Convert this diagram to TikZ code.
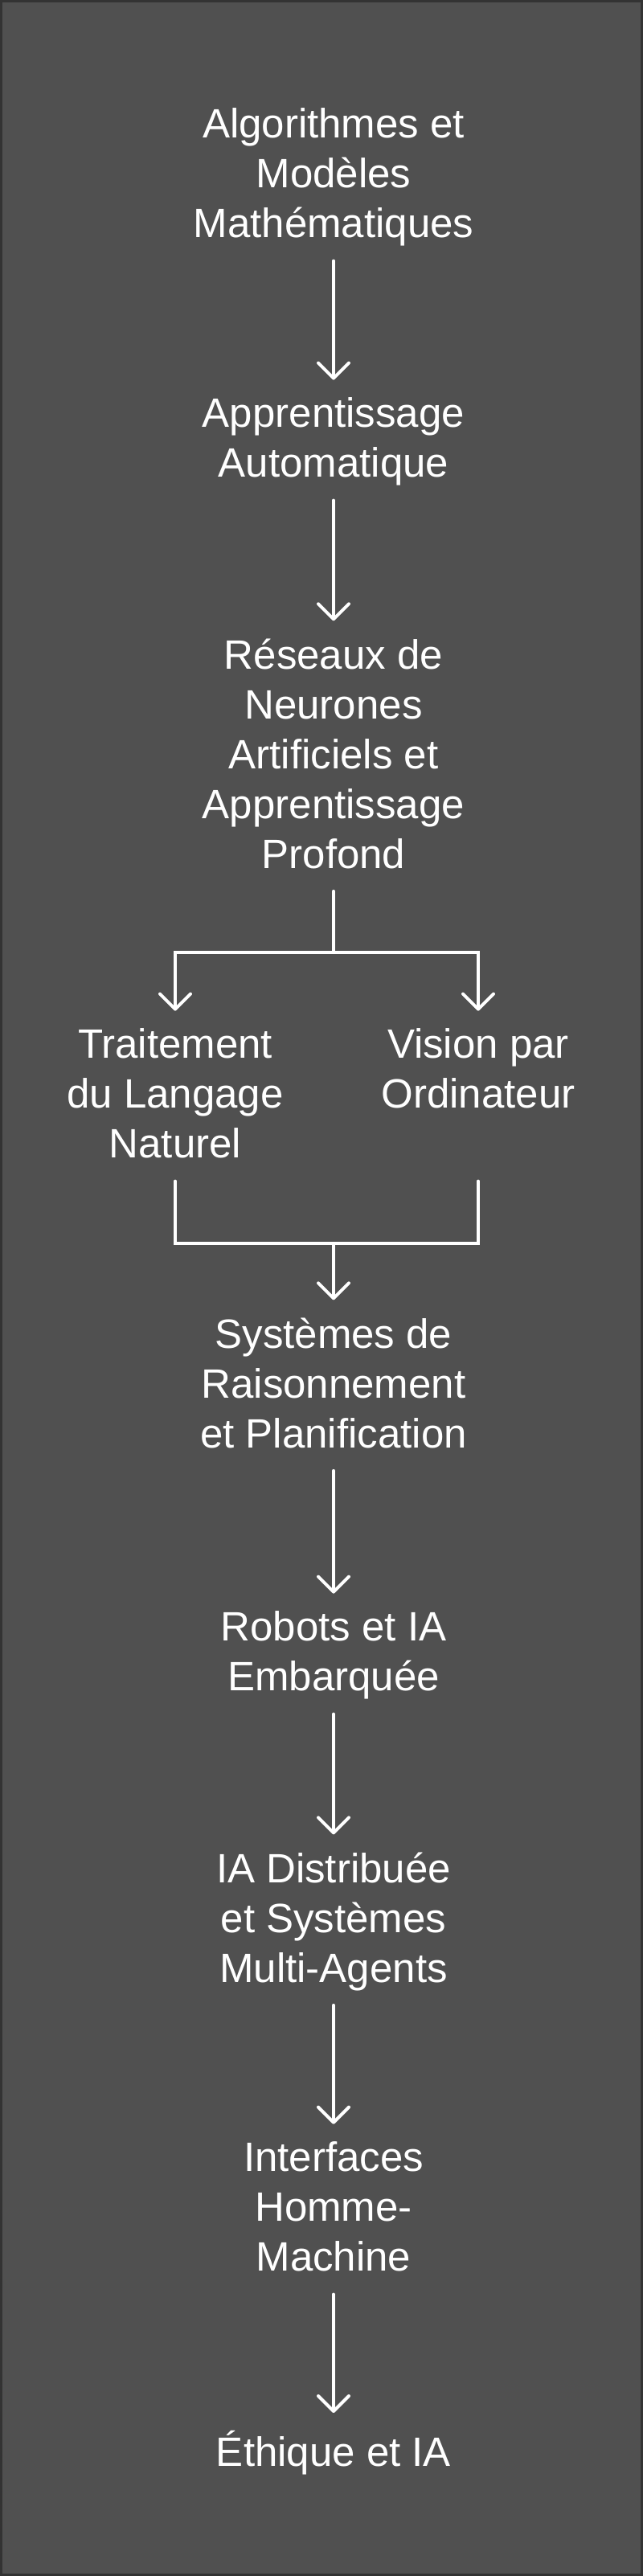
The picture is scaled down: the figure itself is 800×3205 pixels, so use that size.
\documentclass[tikz,border=0pt]{standalone}
\usepackage{fontspec}
\setmainfont{Liberation Sans}
\usepackage{xcolor}
\usepackage{tikz}
\usetikzlibrary{arrows.meta,positioning}
\definecolor{cBack}{HTML}{505050}
\definecolor{cFrame}{HTML}{333333}
\definecolor{cInk}{HTML}{FFFFFF}
\tikzset{
  link/.style ={line width=4pt, draw=cInk, line cap=round, line join=miter},
  arrow/.style={link, -{Straight Barb[length=19pt,width=38pt,round]}, shorten >=22pt},
  gap/.style  ={shorten <=10pt},
  stage/.style={inner sep=0pt, align=center, text=cInk, font=\fontsize{51}{62}\selectfont,
    execute at begin node=\strut, execute at end node=\strut},
}

\begin{document}
\begin{tikzpicture}[x=1pt,y=1pt]
        \useasboundingbox (0,0) rectangle (800,-3205);
        \fill[cBack,draw=cFrame,line width=3pt] (1.5,-1.5) rectangle (798.5,-3203.5);
        % main column
        \node[stage] (algo)   at (415,-224.6)  {Algorithmes et\\Modèles\\Mathématiques};
        \node[stage] (ml)     at (415,-553.6)  {Apprentissage\\Automatique};
        \node[stage] (deep)   at (415,-946.6)  {Réseaux de\\Neurones\\Artificiels et\\Apprentissage\\Profond};
        \node[stage] (nlp)    at (218,-1369.6) {Traitement\\du Langage\\Naturel};
        \node[stage] (vision) at (595,-1338.6) {Vision par\\Ordinateur};
        \node[stage] (plan)   at (415,-1729.6) {Systèmes de\\Raisonnement\\et Planification};
        \node[stage] (robot)  at (415,-2063.6) {Robots et IA\\Embarquée};
        \node[stage] (multi)  at (415,-2394.6) {IA Distribuée\\et Systèmes\\Multi-Agents};
        \node[stage] (hci)    at (415,-2754.6) {Interfaces\\Homme-\\Machine};
        \node[stage] (ethics) at (415,-3055.6) {Éthique et IA};
        \coordinate (fork)  at (415,-1185);
        \coordinate (merge) at (415,-1547);
        % connectors
        \draw[arrow,gap] (algo) -- (ml);
        \draw[arrow,gap] (ml) -- (deep);
        \draw[link,gap] (deep) -- (fork);
        \draw[arrow] (fork) -| (nlp);
        \draw[arrow] (fork) -| (vision);
        \draw[link,gap] (nlp) |- (merge);
        \draw[link,gap] (vision.south |- nlp.south) |- (merge);
        \draw[arrow] (merge) -- (plan);
        \draw[arrow,gap] (plan) -- (robot);
        \draw[arrow,gap] (robot) -- (multi);
        \draw[arrow,gap] (multi) -- (hci);
        \draw[arrow,gap] (hci) -- (ethics);
      \end{tikzpicture}
\end{document}
